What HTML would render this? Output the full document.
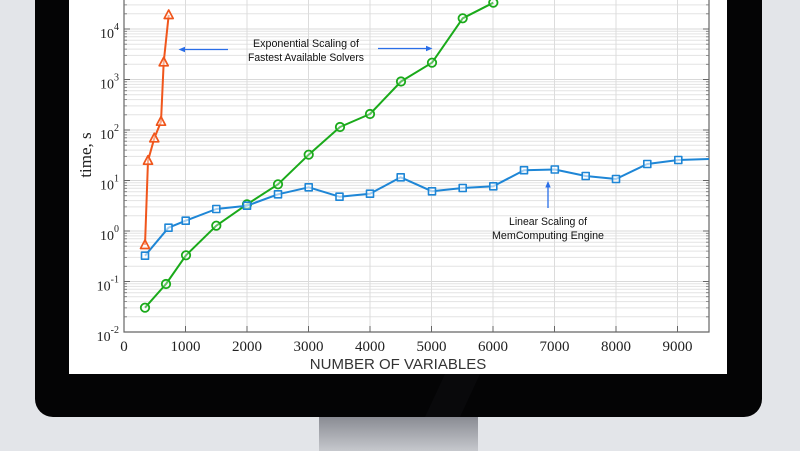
<!DOCTYPE html>
<html>
<head>
<meta charset="utf-8">
<style>
html,body{margin:0;padding:0;background:#e3e5e9;}
svg{display:block;}
</style>
</head>
<body>
<svg width="800" height="451" viewBox="0 0 800 451" xmlns="http://www.w3.org/2000/svg">
  <defs>
    <linearGradient id="stand" x1="0" y1="0" x2="0" y2="1">
      <stop offset="0" stop-color="#7d7f87"/>
      <stop offset="1" stop-color="#c6c8cd"/>
    </linearGradient>
  </defs>
  <rect x="0" y="0" width="800" height="451" fill="#e3e5e9"/>
  <!-- stand -->
  <rect x="319" y="410" width="159" height="41" fill="url(#stand)"/>
  <!-- bezel -->
  <rect x="35" y="-30" width="727" height="447" rx="18" ry="18" fill="#040405"/>
  <polygon points="445,374 480,374 460,417 425,417" fill="#0c0c0e" opacity="0.7"/>
  <!-- screen -->
  <rect x="69" y="0" width="658" height="374" fill="#ffffff"/>

  <!-- horizontal grid (minor + major) -->
  <path fill="none" stroke="#e3e3e3" stroke-width="1" d="
  M124 316.8H709M124 307.9H709M124 301.6H709M124 296.7H709M124 292.7H709M124 289.3H709M124 286.4H709M124 283.8H709
  M124 266.3H709M124 257.4H709M124 251.1H709M124 246.2H709M124 242.2H709M124 238.8H709M124 235.9H709M124 233.3H709
  M124 215.8H709M124 206.9H709M124 200.6H709M124 195.7H709M124 191.7H709M124 188.3H709M124 185.4H709M124 182.8H709
  M124 165.3H709M124 156.4H709M124 150.1H709M124 145.2H709M124 141.2H709M124 137.8H709M124 134.9H709M124 132.3H709
  M124 114.8H709M124 105.9H709M124 99.6H709M124 94.7H709M124 90.7H709M124 87.3H709M124 84.4H709M124 81.8H709
  M124 64.3H709M124 55.4H709M124 49.1H709M124 44.2H709M124 40.2H709M124 36.8H709M124 33.9H709M124 31.3H709
  M124 13.8H709M124 4.9H709"/>
  <path fill="none" stroke="#d9d9d9" stroke-width="1" d="M124 281.5H709M124 231H709M124 180.5H709M124 130H709M124 79.5H709M124 29H709"/>
  <!-- vertical grid -->
  <path fill="none" stroke="#dcdcdc" stroke-width="1" d="M185.5 0V332M247 0V332M308.5 0V332M370 0V332M431.5 0V332M493 0V332M554.5 0V332M616 0V332M677.5 0V332"/>

  <!-- axes -->
  <path fill="none" stroke="#666" stroke-width="1.2" d="M124 0V332H709V0"/>
  <!-- ticks -->
  <path fill="none" stroke="#666" stroke-width="1" d="
  M124 281.5h6M124 231h6M124 180.5h6M124 130h6M124 79.5h6M124 29h6
  M709 281.5h-6M709 231h-6M709 180.5h-6M709 130h-6M709 79.5h-6M709 29h-6
  M185.5 332v-6M247 332v-6M308.5 332v-6M370 332v-6M431.5 332v-6M493 332v-6M554.5 332v-6M616 332v-6M677.5 332v-6"/>
  <path fill="none" stroke="#777" stroke-width="0.8" d="
  M124 316.8h3M124 307.9h3M124 301.6h3M124 296.7h3M124 292.7h3M124 289.3h3M124 286.4h3M124 283.8h3
  M124 266.3h3M124 257.4h3M124 251.1h3M124 246.2h3M124 242.2h3M124 238.8h3M124 235.9h3M124 233.3h3
  M124 215.8h3M124 206.9h3M124 200.6h3M124 195.7h3M124 191.7h3M124 188.3h3M124 185.4h3M124 182.8h3
  M124 165.3h3M124 156.4h3M124 150.1h3M124 145.2h3M124 141.2h3M124 137.8h3M124 134.9h3M124 132.3h3
  M124 114.8h3M124 105.9h3M124 99.6h3M124 94.7h3M124 90.7h3M124 87.3h3M124 84.4h3M124 81.8h3
  M124 64.3h3M124 55.4h3M124 49.1h3M124 44.2h3M124 40.2h3M124 36.8h3M124 33.9h3M124 31.3h3
  M124 13.8h3M124 4.9h3
  M709 316.8h-3M709 307.9h-3M709 301.6h-3M709 296.7h-3M709 292.7h-3M709 289.3h-3M709 286.4h-3M709 283.8h-3
  M709 266.3h-3M709 257.4h-3M709 251.1h-3M709 246.2h-3M709 242.2h-3M709 238.8h-3M709 235.9h-3M709 233.3h-3
  M709 215.8h-3M709 206.9h-3M709 200.6h-3M709 195.7h-3M709 191.7h-3M709 188.3h-3M709 185.4h-3M709 182.8h-3
  M709 165.3h-3M709 156.4h-3M709 150.1h-3M709 145.2h-3M709 141.2h-3M709 137.8h-3M709 134.9h-3M709 132.3h-3
  M709 114.8h-3M709 105.9h-3M709 99.6h-3M709 94.7h-3M709 90.7h-3M709 87.3h-3M709 84.4h-3M709 81.8h-3
  M709 64.3h-3M709 55.4h-3M709 49.1h-3M709 44.2h-3M709 40.2h-3M709 36.8h-3M709 33.9h-3M709 31.3h-3
  M709 13.8h-3M709 4.9h-3"/>

  <!-- y tick labels -->
  <g font-family="'Liberation Serif', serif" font-size="14" fill="#222" text-anchor="end">
    <text x="119" y="38">10<tspan font-size="10" dy="-8">4</tspan></text>
    <text x="119" y="88.5">10<tspan font-size="10" dy="-8">3</tspan></text>
    <text x="119" y="139">10<tspan font-size="10" dy="-8">2</tspan></text>
    <text x="119" y="189.5">10<tspan font-size="10" dy="-8">1</tspan></text>
    <text x="119" y="240">10<tspan font-size="10" dy="-8">0</tspan></text>
    <text x="119" y="290.5">10<tspan font-size="10" dy="-8">-1</tspan></text>
    <text x="119" y="341">10<tspan font-size="10" dy="-8">-2</tspan></text>
  </g>
  <!-- x tick labels -->
  <g font-family="'Liberation Serif', serif" font-size="15" fill="#222" text-anchor="middle">
    <text x="124" y="351">0</text>
    <text x="185.5" y="351">1000</text>
    <text x="247" y="351">2000</text>
    <text x="308.5" y="351">3000</text>
    <text x="370" y="351">4000</text>
    <text x="431.5" y="351">5000</text>
    <text x="493" y="351">6000</text>
    <text x="554.5" y="351">7000</text>
    <text x="616" y="351">8000</text>
    <text x="677.5" y="351">9000</text>
  </g>
  <text x="398" y="369" font-family="'Liberation Sans', sans-serif" font-size="15" fill="#333" text-anchor="middle">NUMBER OF VARIABLES</text>
  <text transform="translate(91,155) rotate(-90)" font-family="'Liberation Serif', serif" font-size="17" fill="#222" text-anchor="middle">time, s</text>

  <!-- green series -->
  <g fill="none" stroke="#1aaa1a" stroke-width="2" stroke-linejoin="round">
    <polyline points="145,307.7 166,284 186,255.3 216.3,225.7 247,204.3 278,184.3 308.7,154.7 340,127 370,114 401,81.5 432,62.7 462.7,18.3 493.3,2.7"/>
    <g fill="#fff" fill-opacity="0.3" stroke-width="1.8">
      <circle cx="145" cy="307.7" r="4.2"/><circle cx="166" cy="284" r="4.2"/><circle cx="186" cy="255.3" r="4.2"/>
      <circle cx="216.3" cy="225.7" r="4.2"/><circle cx="247" cy="204.3" r="4.2"/><circle cx="278" cy="184.3" r="4.2"/>
      <circle cx="308.7" cy="154.7" r="4.2"/><circle cx="340" cy="127" r="4.2"/><circle cx="370" cy="114" r="4.2"/>
      <circle cx="401" cy="81.5" r="4.2"/><circle cx="432" cy="62.7" r="4.2"/><circle cx="462.7" cy="18.3" r="4.2"/>
      <circle cx="493.3" cy="2.7" r="4.2"/>
    </g>
  </g>

  <!-- blue series -->
  <g fill="none" stroke="#1e86d6" stroke-width="2" stroke-linejoin="round">
    <polyline points="145,255.7 168.5,227.7 185.7,220.7 216.3,209 247,205.7 278,194.3 308.7,187.3 339.5,196.7 370,193.7 400.7,177.3 432,191.3 462.7,188 493.3,186.3 524,170.2 554.8,169.5 585.7,176 616,179 647.3,164 678.3,160 709,159"/>
    <g fill="#fff" fill-opacity="0.6" stroke-width="1.6">
      <rect x="141.5" y="252.2" width="7" height="7"/><rect x="165" y="224.2" width="7" height="7"/>
      <rect x="182.2" y="217.2" width="7" height="7"/><rect x="212.8" y="205.5" width="7" height="7"/>
      <rect x="243.5" y="202.2" width="7" height="7"/><rect x="274.5" y="190.8" width="7" height="7"/>
      <rect x="305.2" y="183.8" width="7" height="7"/><rect x="336" y="193.2" width="7" height="7"/>
      <rect x="366.5" y="190.2" width="7" height="7"/><rect x="397.2" y="173.8" width="7" height="7"/>
      <rect x="428.5" y="187.8" width="7" height="7"/><rect x="459.2" y="184.5" width="7" height="7"/>
      <rect x="489.8" y="182.8" width="7" height="7"/><rect x="520.5" y="166.7" width="7" height="7"/>
      <rect x="551.3" y="166" width="7" height="7"/><rect x="582.2" y="172.5" width="7" height="7"/>
      <rect x="612.5" y="175.5" width="7" height="7"/><rect x="643.8" y="160.5" width="7" height="7"/>
      <rect x="674.8" y="156.5" width="7" height="7"/>
    </g>
  </g>

  <!-- orange series -->
  <g fill="none" stroke="#f0561c" stroke-width="2" stroke-linejoin="round">
    <polyline points="145,245 148,160.7 154.3,138.3 161,121.7 163.7,62.3 168.7,15"/>
    <g fill="#fff" fill-opacity="0.5" stroke-width="1.7">
      <polygon points="145,240 140.5,248.5 149.5,248.5"/>
      <polygon points="148,155.7 143.5,164.2 152.5,164.2"/>
      <polygon points="154.3,133.3 149.8,141.8 158.8,141.8"/>
      <polygon points="161,116.7 156.5,125.2 165.5,125.2"/>
      <polygon points="163.7,57.3 159.2,65.8 168.2,65.8"/>
      <polygon points="168.7,10 164.2,18.5 173.2,18.5"/>
    </g>
  </g>

  <!-- annotations -->
  <g stroke="#2a6ee8" stroke-width="1.3" fill="#2a6ee8">
    <line x1="228" y1="49.5" x2="183" y2="49.5"/>
    <polygon points="178.5,49.5 185,46.8 185,52.2" stroke="none"/>
    <line x1="378" y1="48.5" x2="428" y2="48.5"/>
    <polygon points="432.5,48.5 426,45.8 426,51.2" stroke="none"/>
    <line x1="548" y1="208" x2="548" y2="186"/>
    <polygon points="548,181 545.3,187.5 550.7,187.5" stroke="none"/>
  </g>
  <g font-family="'Liberation Sans', sans-serif" font-size="11" fill="#111" text-anchor="middle">
    <text x="306" y="47" textLength="106" lengthAdjust="spacingAndGlyphs">Exponential Scaling of</text>
    <text x="306" y="61" textLength="116" lengthAdjust="spacingAndGlyphs">Fastest Available Solvers</text>
    <text x="548" y="225" textLength="78" lengthAdjust="spacingAndGlyphs">Linear Scaling of</text>
    <text x="548" y="239" textLength="112" lengthAdjust="spacingAndGlyphs">MemComputing Engine</text>
  </g>
</svg>
</body>
</html>
